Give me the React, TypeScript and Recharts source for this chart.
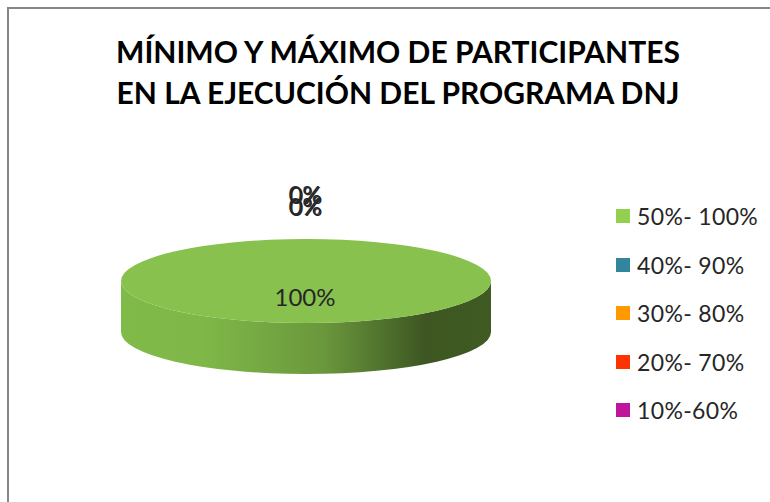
import { PieChart, Pie, Legend } from 'recharts'

const categories = ['50%- 100%', '40%- 90%', '30%- 80%', '20%- 70%', '10%-60%']
const shares = [100, 0, 0, 0, 0]
const colors = ['#92d050', '#31859c', '#ff9900', '#ff3300', '#c0149c']
const titleLines = ['MÍNIMO Y MÁXIMO DE PARTICIPANTES', 'EN LA EJECUCIÓN DEL PROGRAMA DNJ']

const FONT = 'Lato, "Open Sans", sans-serif'
const TILT = 0.227 // ellipse height / width of the fake 3D disc
const DEPTH = 51
const TOP_GREEN = '#88c14e'

const data = categories.map((name, i) => ({ name, value: shares[i], fill: colors[i] }))

function DiscSlice(props: any) {
  const { cx, cy, outerRadius: r, startAngle, endAngle } = props
  if (Math.abs(endAngle - startAngle) < 0.01) return null
  const ry = r * TILT
  const left = cx - r
  const right = cx + r
  const side = `M${left},${cy} L${left},${cy + DEPTH} A${r},${ry} 0 0 0 ${right},${cy + DEPTH} L${right},${cy} A${r},${ry} 0 0 1 ${left},${cy} Z`
  return (
    <g>
      <defs>
        <linearGradient id="discSide" x1="0" y1="0" x2="1" y2="0">
          <stop offset="0" stopColor="#80ba49" />
          <stop offset="0.22" stopColor="#7fb848" />
          <stop offset="0.55" stopColor="#6a973c" />
          <stop offset="0.82" stopColor="#3e5722" />
          <stop offset="1" stopColor="#3f5a22" />
        </linearGradient>
      </defs>
      <path d={side} fill="url(#discSide)" />
      <ellipse cx={cx} cy={cy} rx={r} ry={ry} fill={TOP_GREEN} />
    </g>
  )
}

// zero slices all land on the same spot at the top, nudged a bit like the original
const zeroNudgeY = [0, -5, -4, 7, 8]
const zeroNudgeX = [0, -1, 0, -1, 0]

function SliceLabel(props: any) {
  const { cx, cy, value, index } = props
  const isZero = value === 0
  return (
    <text
      x={isZero ? cx + zeroNudgeX[index] : cx - 1}
      y={isZero ? cy - 83 + zeroNudgeY[index] : cy + 15}
      textAnchor="middle"
      dominantBaseline="central"
      fontFamily={FONT}
      fontSize={24}
      fill="#262626"
    >
      {`${value}%`}
    </text>
  )
}

function LegendList({ payload }: any) {
  return (
    <div>
      {(payload ?? []).map((entry: any) => (
        <div
          key={entry.value}
          style={{ display: 'flex', alignItems: 'center', height: 48.5 }}
        >
          <span style={{ width: 14, height: 14, background: entry.color, marginRight: 7 }} />
          <span
            style={{
              fontFamily: FONT,
              fontSize: 23,
              letterSpacing: 0.35,
              color: '#262626',
              whiteSpace: 'pre',
            }}
          >
            {entry.value}
          </span>
        </div>
      ))}
    </div>
  )
}

export default function App() {
  return (
    <div
      style={{
        position: 'absolute',
        left: 0,
        top: 0,
        width: 770,
        height: 502,
        overflow: 'hidden',
        background: '#fff',
      }}
    >
      <div
        style={{
          position: 'absolute',
          left: 7,
          top: 7,
          right: 0,
          bottom: 0,
          borderLeft: '2px solid #868686',
          borderTop: '2px solid #868686',
        }}
      />
      <div
        style={{
          position: 'absolute',
          left: 0,
          top: 31,
          width: 796,
          textAlign: 'center',
          fontFamily: FONT,
          fontWeight: 700,
          fontSize: 30,
          lineHeight: '41px',
          color: '#000',
        }}
      >
        {titleLines.map((line) => (
          <div key={line}>{line}</div>
        ))}
      </div>
      <PieChart
        width={770}
        height={502}
        margin={{ top: 0, right: 0, bottom: 0, left: 0 }}
        style={{ position: 'absolute', left: 0, top: 0 }}
      >
        <Pie
          data={data}
          dataKey="value"
          nameKey="name"
          cx={306}
          cy={281}
          innerRadius={0}
          outerRadius={185}
          startAngle={90}
          endAngle={-270}
          stroke="none"
          shape={DiscSlice}
          label={SliceLabel}
          labelLine={false}
          isAnimationActive={false}
        />
        <Legend
          layout="vertical"
          align="right"
          verticalAlign="top"
          itemSorter={null}
          content={LegendList}
          wrapperStyle={{ left: 616, top: 192, width: 154 }}
        />
      </PieChart>
    </div>
  )
}
